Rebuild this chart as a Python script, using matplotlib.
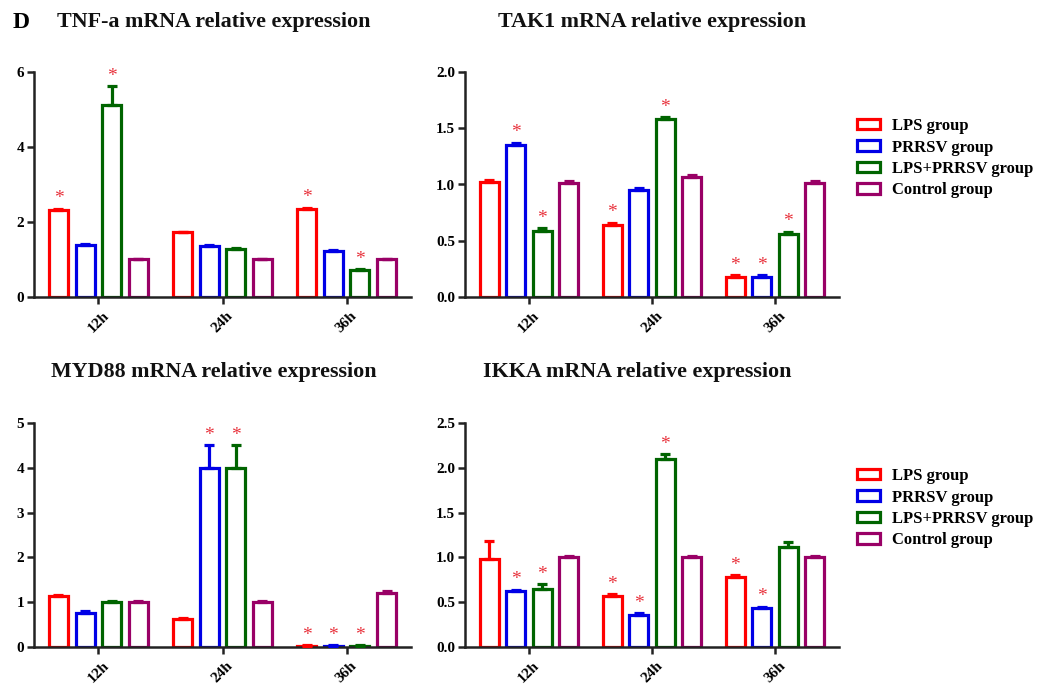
import numpy as np
import matplotlib
matplotlib.use("Agg")
import matplotlib.pyplot as plt
from matplotlib.patches import Patch

plt.rcParams['font.family'] = ['Liberation Serif', 'DejaVu Serif']
plt.rcParams['font.weight'] = 'bold'

groups = ['12h', '24h', '36h']
series = ['LPS group', 'PRRSV group', 'LPS+PRRSV group', 'Control group']
colors = ['#ff0000', '#0000e6', '#006400', '#990066']

# TNF-a
tnf_lps = [2.33, 1.72, 2.35]
tnf_prrsv = [1.38, 1.35, 1.22]
tnf_both = [5.12, 1.27, 0.72]
tnf_ctrl = [1.0, 1.0, 1.0]
tnf_err = [[0.03, 0.02, 0.03], [0.02, 0.03, 0.02], [0.50, 0.04, 0.02], [0.02, 0.02, 0.02]]
tnf_star = [[1, 0, 1], [0, 0, 0], [1, 0, 1], [0, 0, 0]]

# TAK1
tak_lps = [1.02, 0.64, 0.175]
tak_prrsv = [1.35, 0.95, 0.175]
tak_both = [0.59, 1.58, 0.56]
tak_ctrl = [1.01, 1.065, 1.01]
tak_err = [[0.02, 0.02, 0.02], [0.02, 0.02, 0.02], [0.02, 0.02, 0.02], [0.02, 0.02, 0.02]]
tak_star = [[0, 1, 1], [1, 0, 1], [1, 1, 1], [0, 0, 0]]

# MYD88
myd_lps = [1.14, 0.62, 0.03]
myd_prrsv = [0.77, 4.0, 0.03]
myd_both = [1.0, 4.0, 0.03]
myd_ctrl = [1.0, 1.0, 1.21]
myd_err = [[0.03, 0.03, 0.01], [0.03, 0.51, 0.01], [0.02, 0.51, 0.01], [0.03, 0.03, 0.03]]
myd_star = [[0, 0, 1], [0, 1, 1], [0, 1, 1], [0, 0, 0]]

# IKKA
ikk_lps = [0.98, 0.57, 0.78]
ikk_prrsv = [0.62, 0.36, 0.43]
ikk_both = [0.65, 2.10, 1.12]
ikk_ctrl = [1.0, 1.0, 1.0]
ikk_err = [[0.20, 0.02, 0.02], [0.02, 0.02, 0.02], [0.05, 0.05, 0.05], [0.02, 0.02, 0.02]]
ikk_star = [[0, 1, 1], [1, 1, 1], [1, 1, 0], [0, 0, 0]]

panels = [
    ("TNF-a mRNA relative expression", [tnf_lps, tnf_prrsv, tnf_both, tnf_ctrl], tnf_err, tnf_star,
     [0, 2, 4, 6], "%d"),
    ("TAK1 mRNA relative expression", [tak_lps, tak_prrsv, tak_both, tak_ctrl], tak_err, tak_star,
     [0, 0.5, 1.0, 1.5, 2.0], "%.1f"),
    ("MYD88 mRNA relative expression", [myd_lps, myd_prrsv, myd_both, myd_ctrl], myd_err, myd_star,
     [0, 1, 2, 3, 4, 5], "%d"),
    ("IKKA mRNA relative expression", [ikk_lps, ikk_prrsv, ikk_both, ikk_ctrl], ikk_err, ikk_star,
     [0, 0.5, 1.0, 1.5, 2.0, 2.5], "%.1f"),
]

W, H = 1037, 686
fig = plt.figure(figsize=(W / 100, H / 100), dpi=100)

# axes boxes in pixels: left, top, right, bottom
boxes = [(34, 72, 411, 297), (465, 72, 839, 297), (34, 423, 411, 647), (465, 423, 839, 647)]
title_pos = [(214, 22), (652, 22), (214, 372), (637, 372)]

x = np.arange(len(groups))
pitch = 0.215
width = 0.155

for k, (title, vals, errs, stars, yt, fmt) in enumerate(panels):
    l, t, r, b = boxes[k]
    ax = fig.add_axes([l / W, 1 - b / H, (r - l) / W, (b - t) / H])
    for i in range(4):
        xs = x + (i - 1.5) * pitch
        v = np.array(vals[i])
        e = np.array(errs[i])
        ax.bar(xs, v, width, facecolor='white', edgecolor=colors[i], linewidth=2.3,
               label=series[i], zorder=2)
        ax.errorbar(xs, v, yerr=[np.zeros_like(e), e], fmt='none', ecolor=colors[i],
                    elinewidth=2.3, capsize=3.5, capthick=2.3, zorder=3)
        for j in range(len(groups)):
            if stars[i][j]:
                ax.annotate('*', (xs[j], v[j] + e[j]), xytext=(0, 1), textcoords='offset points',
                            ha='center', va='bottom', color='#e8323c', fontsize=14,
                            fontweight='normal')
    ax.set_xlim(-0.52, 2.52)
    ax.set_ylim(yt[0], yt[-1])
    ax.set_yticks(yt)
    ax.set_yticklabels([fmt % v for v in yt], fontsize=11, fontweight='bold')
    ax.set_xticks(x)
    ax.set_xticklabels(groups, rotation=45, ha='center', va='top', fontsize=11, fontweight='bold')
    ax.spines['top'].set_visible(False)
    ax.spines['right'].set_visible(False)
    for s in ['left', 'bottom']:
        ax.spines[s].set_linewidth(1.8)
        ax.spines[s].set_color('#222222')
    ax.tick_params(axis='both', width=1.8, length=5, color='#222222', pad=2)
    ax.tick_params(axis='x', pad=4)
    ax.patch.set_visible(False)

    fig.text(title_pos[k][0] / W, 1 - title_pos[k][1] / H, title, ha='center', va='center',
             fontsize=15.8, fontweight='bold', color='#111111')

    if k in (1, 3):
        handles = [Patch(facecolor='white', edgecolor=c, linewidth=2.3) for c in colors]
        ly = 118 if k == 1 else 468
        fig.legend(handles, series, loc='upper left', bbox_to_anchor=(857 / W, 1 - ly / H),
                   frameon=False, handlelength=1.4, handleheight=0.6,
                   handletextpad=0.7, labelspacing=0.33, borderaxespad=0, borderpad=0,
                   prop={'weight': 'bold', 'size': 12})

fig.text(13 / W, 1 - 22 / H, "D", ha='left', va='center', fontsize=17, fontweight='bold')

fig.savefig("out.png", dpi=100)
